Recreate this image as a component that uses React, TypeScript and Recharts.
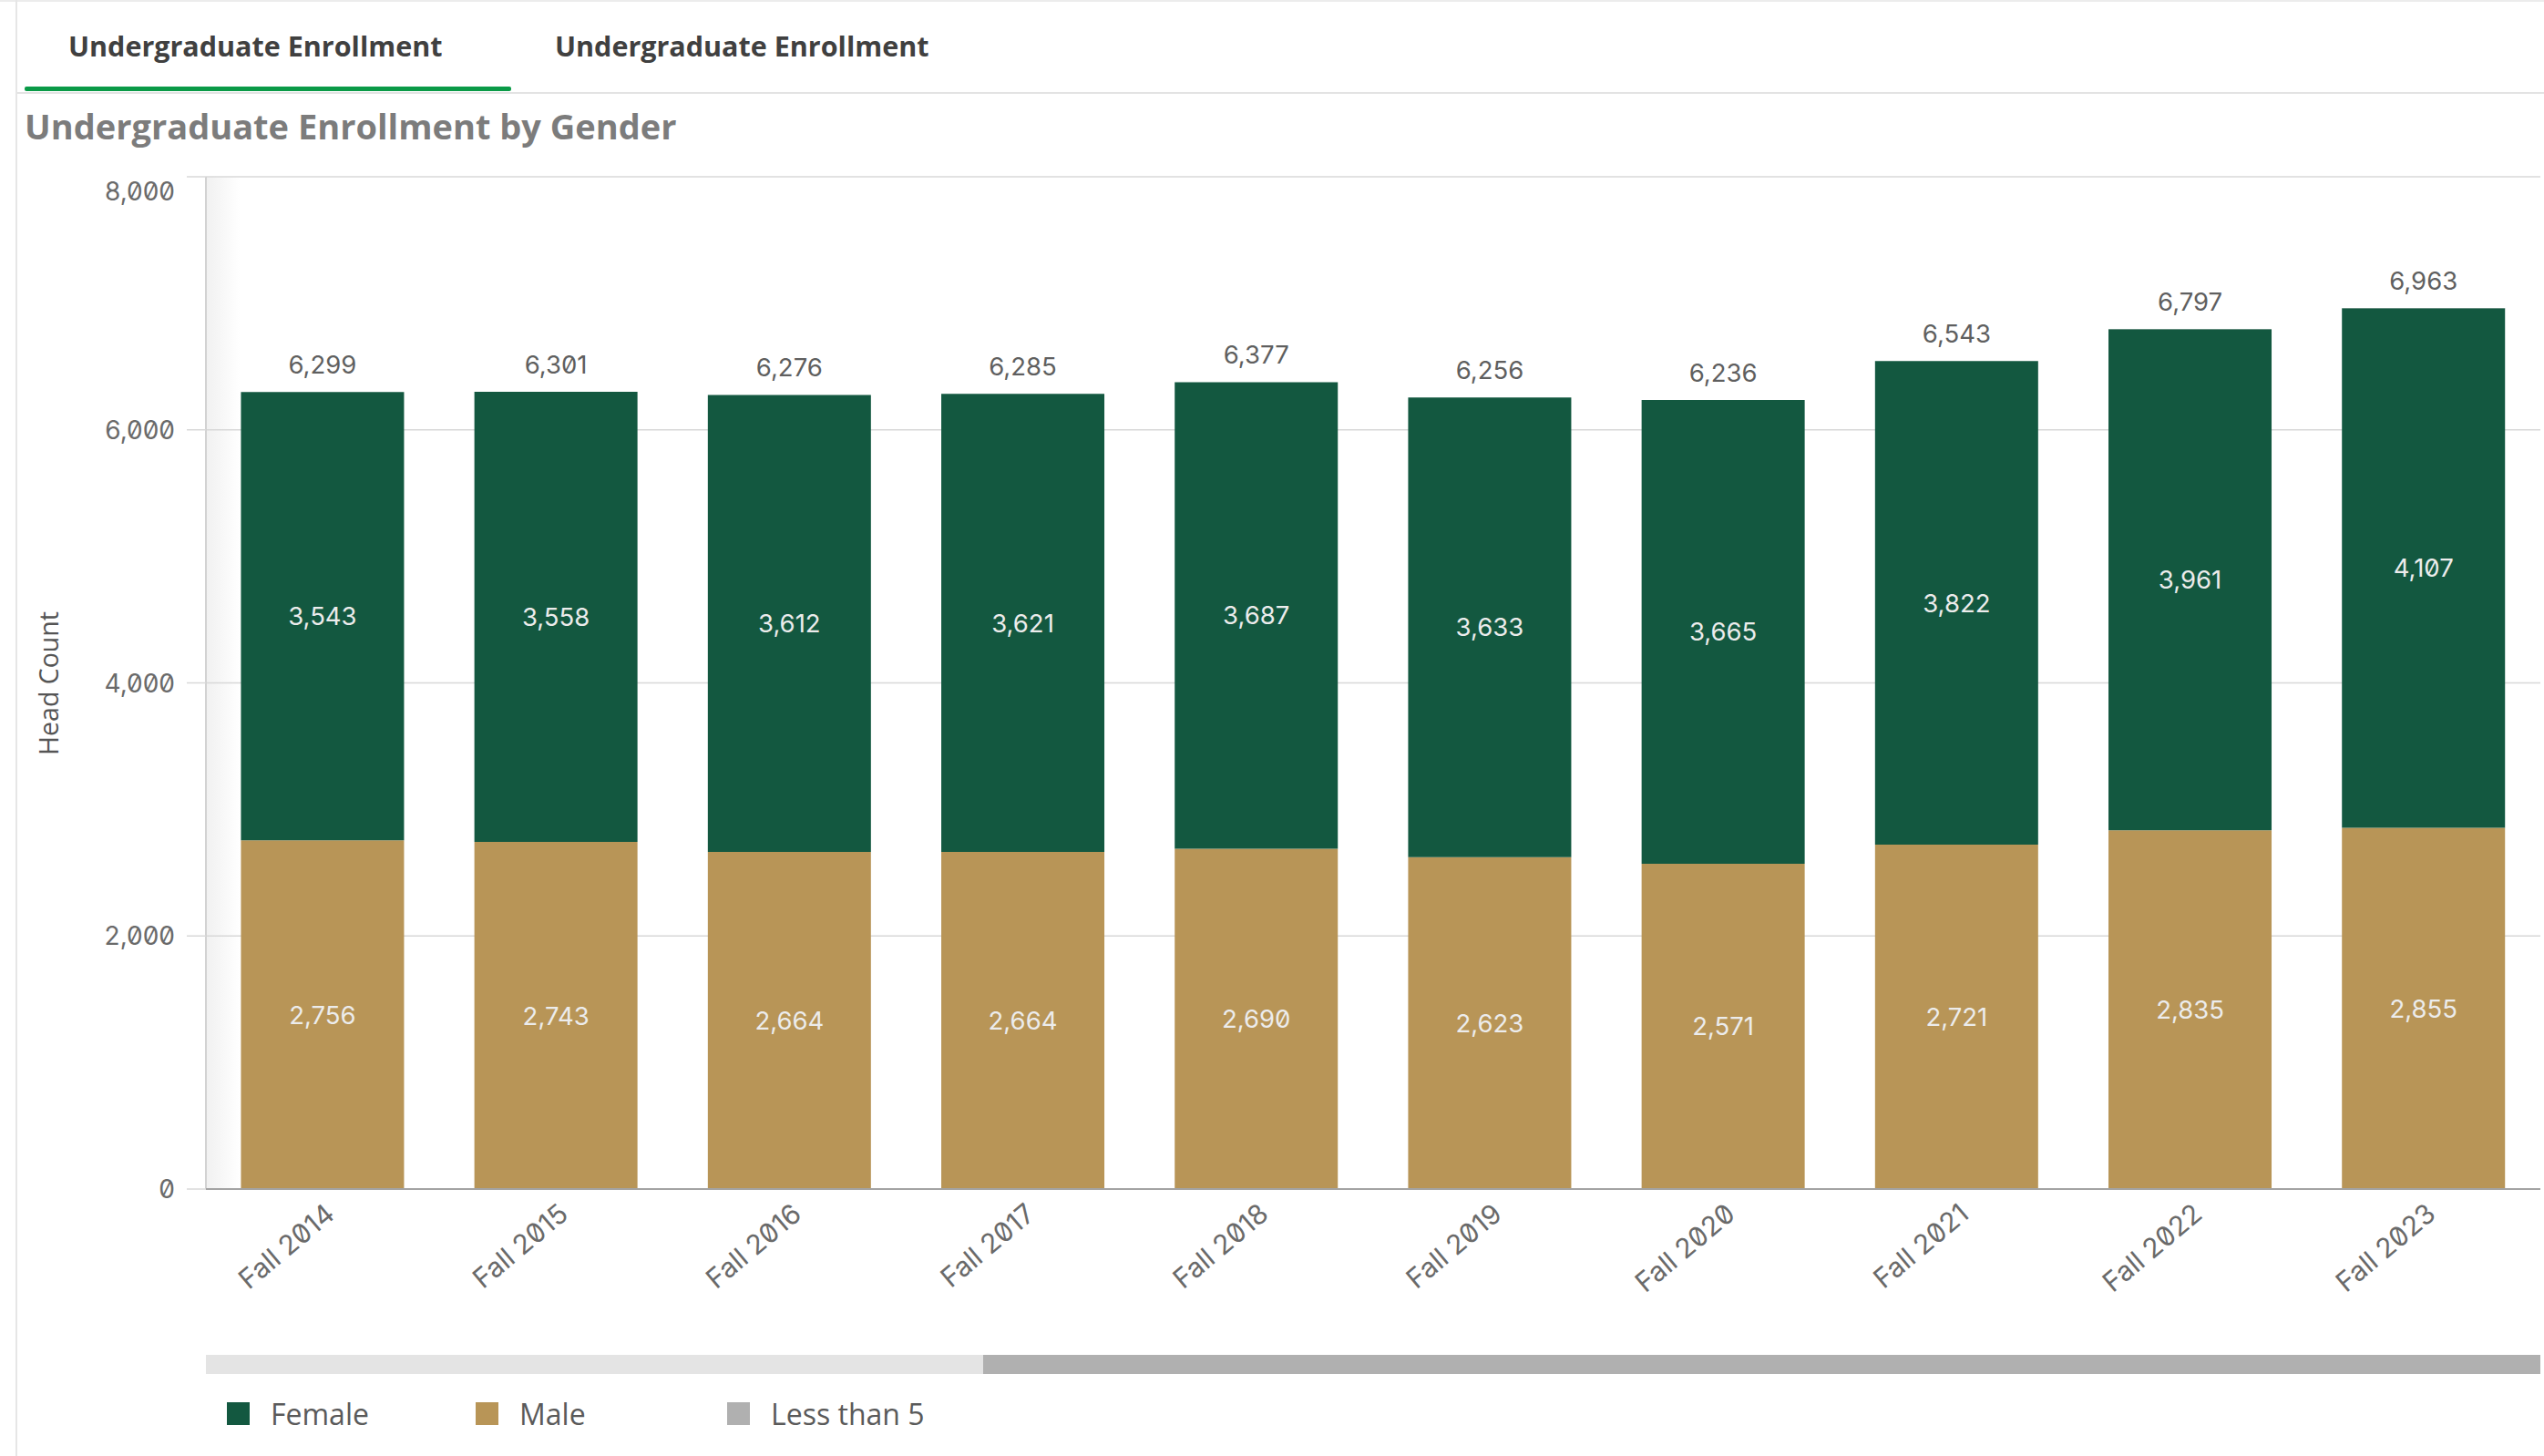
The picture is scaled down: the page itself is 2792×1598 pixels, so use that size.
import React from 'react';
import { BarChart, Bar, XAxis, YAxis, CartesianGrid, LabelList } from 'recharts';

const categories = ['Fall 2014', 'Fall 2015', 'Fall 2016', 'Fall 2017', 'Fall 2018', 'Fall 2019', 'Fall 2020', 'Fall 2021', 'Fall 2022', 'Fall 2023'];
const femaleValues = [3543, 3558, 3612, 3621, 3687, 3633, 3665, 3822, 3961, 4107];
const maleValues = [2756, 2743, 2664, 2664, 2690, 2623, 2571, 2721, 2835, 2855];
const lessThan5Values = [0, 0, 0, 0, 0, 0, 0, 0, 1, 1];
const totalValues = [6299, 6301, 6276, 6285, 6377, 6256, 6236, 6543, 6797, 6963];
const yTicks = [0, 2000, 4000, 6000, 8000];
const seriesNames = ['Female', 'Male', 'Less than 5'];
const seriesColors = ['#135840', '#b89557', '#b0b0b0'];
const tabLabels = ['Undergraduate Enrollment', 'Undergraduate Enrollment'];
const chartTitle = 'Undergraduate Enrollment by Gender';
const yAxisTitle = 'Head Count';

const data = categories.map((c, i) => ({
  category: c,
  female: femaleValues[i],
  male: maleValues[i],
  less: lessThan5Values[i],
  total: totalValues[i],
}));

const NUM_FONT = 'Inter, "Open Sans", sans-serif';
const TEXT_FONT = '"Open Sans", sans-serif';
const numStyle: React.CSSProperties = { fontFeatureSettings: '"zero" 1' };
const fmt = (v: number) => Number(v).toLocaleString('en-US');

const getBox = (p: any) => {
  const vb = p.viewBox && typeof p.viewBox.x === 'number' ? p.viewBox : p;
  return { x: Number(vb.x), y: Number(vb.y), width: Number(vb.width), height: Number(vb.height) };
};

const TotalLabel = (props: any) => {
  const { x, y, width } = getBox(props);
  if (props.value === undefined || props.value === null) return null;
  return (
    <text x={x + width / 2} y={y - 30} textAnchor="middle" dominantBaseline="central"
      fill="#5f5f5f" fontSize={27.5} fontFamily={NUM_FONT} style={numStyle}>
      {fmt(props.value)}
    </text>
  );
};

const InnerLabel = (props: any) => {
  const { x, y, width, height } = getBox(props);
  if (props.value === undefined || props.value === null) return null;
  return (
    <text x={x + width / 2} y={y + height / 2} textAnchor="middle" dominantBaseline="central"
      fill="#ececec" fontSize={27.5} fontFamily={NUM_FONT} style={numStyle}>
      {fmt(props.value)}
    </text>
  );
};

const YTick = (props: any) => {
  const { x, y, payload } = props;
  const shift = payload.value === yTicks[yTicks.length - 1] ? 16 : 0;
  return (
    <text x={x} y={y + shift} textAnchor="end" dominantBaseline="central"
      fill="#6a6a6a" fontSize={28} fontFamily={NUM_FONT} style={numStyle}>
      {fmt(payload.value)}
    </text>
  );
};

const XTick = (props: any) => {
  const { x, y, payload } = props;
  return (
    <text transform={`translate(${x + 8},${y + 22}) rotate(-40)`} textAnchor="end" dominantBaseline="central"
      fill="#6a6a6a" fontSize={30} fontFamily={NUM_FONT} style={numStyle}>
      {payload.value}
    </text>
  );
};

export default function App() {
  return (
    <div style={{ position: 'absolute', left: 0, top: 0, width: 2792, height: 1598, background: '#fff', overflow: 'hidden' }}>
      {/* frame */}
      <div style={{ position: 'absolute', left: 0, top: 0, width: 2792, height: 2, background: '#ececec' }} />
      <div style={{ position: 'absolute', left: 17, top: 0, width: 2, height: 1598, background: '#e6e6e6' }} />
      {/* tabs */}
      <div style={{ position: 'absolute', left: 19, top: 101, width: 2773, height: 2, background: '#e3e3e3' }} />
      <div style={{ position: 'absolute', left: 27, top: 95, width: 534, height: 5, background: '#0a9a47', borderRadius: 2 }} />
      {tabLabels.map((t, i) => (
        <div key={i} style={{ position: 'absolute', left: i === 0 ? 75 : 609, top: 30, fontFamily: TEXT_FONT, fontWeight: 700, fontSize: 30.5, color: '#404040', lineHeight: '40px', whiteSpace: 'nowrap' }}>{t}</div>
      ))}
      {/* title */}
      <div style={{ position: 'absolute', left: 27, top: 113, fontFamily: TEXT_FONT, fontWeight: 700, fontSize: 38, color: '#7c7c7c', lineHeight: '50px', whiteSpace: 'nowrap' }}>{chartTitle}</div>
      {/* scroll shadow near axis */}
      <div style={{ position: 'absolute', left: 227, top: 194, width: 36, height: 1111, background: 'linear-gradient(to right, #f1f1f1, #ffffff)' }} />
      {/* y axis title */}
      <div style={{ position: 'absolute', left: 53, top: 750, transform: 'translate(-50%, -50%) rotate(-90deg)', fontFamily: TEXT_FONT, fontSize: 28.5, color: '#555', whiteSpace: 'nowrap', lineHeight: '34px' }}>{yAxisTitle}</div>
      <div style={{ position: 'absolute', left: 0, top: 0 }}>
        <BarChart width={2792} height={1598} data={data} margin={{ top: 194, right: 4, left: 0, bottom: 193 }} barCategoryGap="15%">
          <CartesianGrid vertical={false} stroke="#d8d8d8" strokeWidth={1.5} />
          <YAxis type="number" domain={[0, 8000]} ticks={yTicks} interval={0} width={226}
            axisLine={{ stroke: '#d2d2d2', strokeWidth: 2 }} tickLine={{ stroke: '#d8d8d8', strokeWidth: 1.5 }} tickSize={21} tickMargin={13}
            tick={<YTick />} />
          <XAxis dataKey="category" height={100} interval={0} axisLine={{ stroke: '#a3a3a3', strokeWidth: 2 }} tickLine={false} tickSize={0} tickMargin={0}
            tick={<XTick />} />
          <Bar dataKey="male" name={seriesNames[1]} stackId="a" fill={seriesColors[1]} isAnimationActive={false}>
            <LabelList dataKey="male" content={<InnerLabel />} />
          </Bar>
          <Bar dataKey="female" name={seriesNames[0]} stackId="a" fill={seriesColors[0]} isAnimationActive={false}>
            <LabelList dataKey="female" content={<InnerLabel />} />
            <LabelList dataKey="total" content={<TotalLabel />} />
          </Bar>
          <Bar dataKey="less" name={seriesNames[2]} stackId="a" fill={seriesColors[2]} isAnimationActive={false} />
        </BarChart>
      </div>
      {/* scrollbar */}
      <div style={{ position: 'absolute', left: 226, top: 1487, width: 853, height: 21, background: '#e4e4e4' }} />
      <div style={{ position: 'absolute', left: 1079, top: 1487, width: 1709, height: 21, background: '#b0b0b0' }} />
      {/* legend */}
      {seriesNames.map((n, i) => {
        const left = [249, 522, 798][i];
        return (
          <div key={n} style={{ position: 'absolute', left, top: 1530, height: 42, display: 'flex', alignItems: 'center', whiteSpace: 'nowrap' }}>
            <div style={{ width: 25, height: 25, background: seriesColors[i], marginRight: 23 }} />
            <span style={{ fontFamily: TEXT_FONT, fontSize: 32, color: '#5a5a5a' }}>{n}</span>
          </div>
        );
      })}
    </div>
  );
}
